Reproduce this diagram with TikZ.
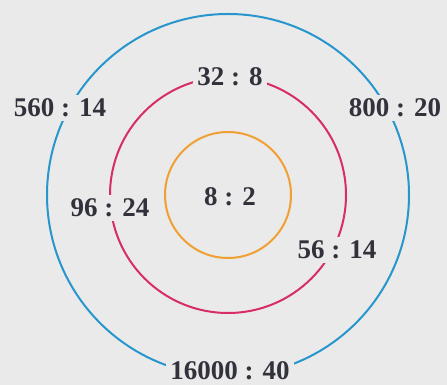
\documentclass[tikz,border=0pt]{standalone}
\usepackage{fontspec}
\setmainfont{Liberation Serif}
\usepackage{xcolor}
\usepackage{tikz}

\definecolor{paper}{RGB}{234,234,234}
\definecolor{ringblue}{RGB}{40,150,205}
\definecolor{ringpink}{RGB}{215,45,105}
\definecolor{ringorange}{RGB}{240,160,50}
\definecolor{ink}{RGB}{50,50,60}

\begin{document}
\begin{tikzpicture}[x=1pt, y=1pt, every node/.style={font=\fontsize{27}{30}\selectfont\bfseries, text=ink}, ratio/.style={fill=paper, inner sep=4pt}]
    \fill[paper] (0,0) rectangle (447,385);
    \useasboundingbox (0,0) rectangle (447,385);
    \coordinate (c) at (228,190);
    % the three rings
    \draw[ringblue, line width=2pt] (c) circle (181pt);
    \draw[ringpink, line width=2pt] (c) circle (118pt);
    \draw[ringorange, line width=2pt] (c) circle (63pt);
    % labels, cutting gaps in the rings
    \node[ratio] (inner) at (230,188) {8 : 2};
    \node[ratio] (midtop) at (230,308) {32 : 8};
    \node[ratio] (midleft) at (110,177) {96 : 24};
    \node[ratio] (midright) at (337,135) {56 : 14};
    \node[ratio] (outleft) at (60,277) {560 : 14};
    \node[ratio] (outright) at (395,277) {800 : 20};
    \node[ratio] (outbottom) at (230,14) {16000 : 40};
\end{tikzpicture}
\end{document}
